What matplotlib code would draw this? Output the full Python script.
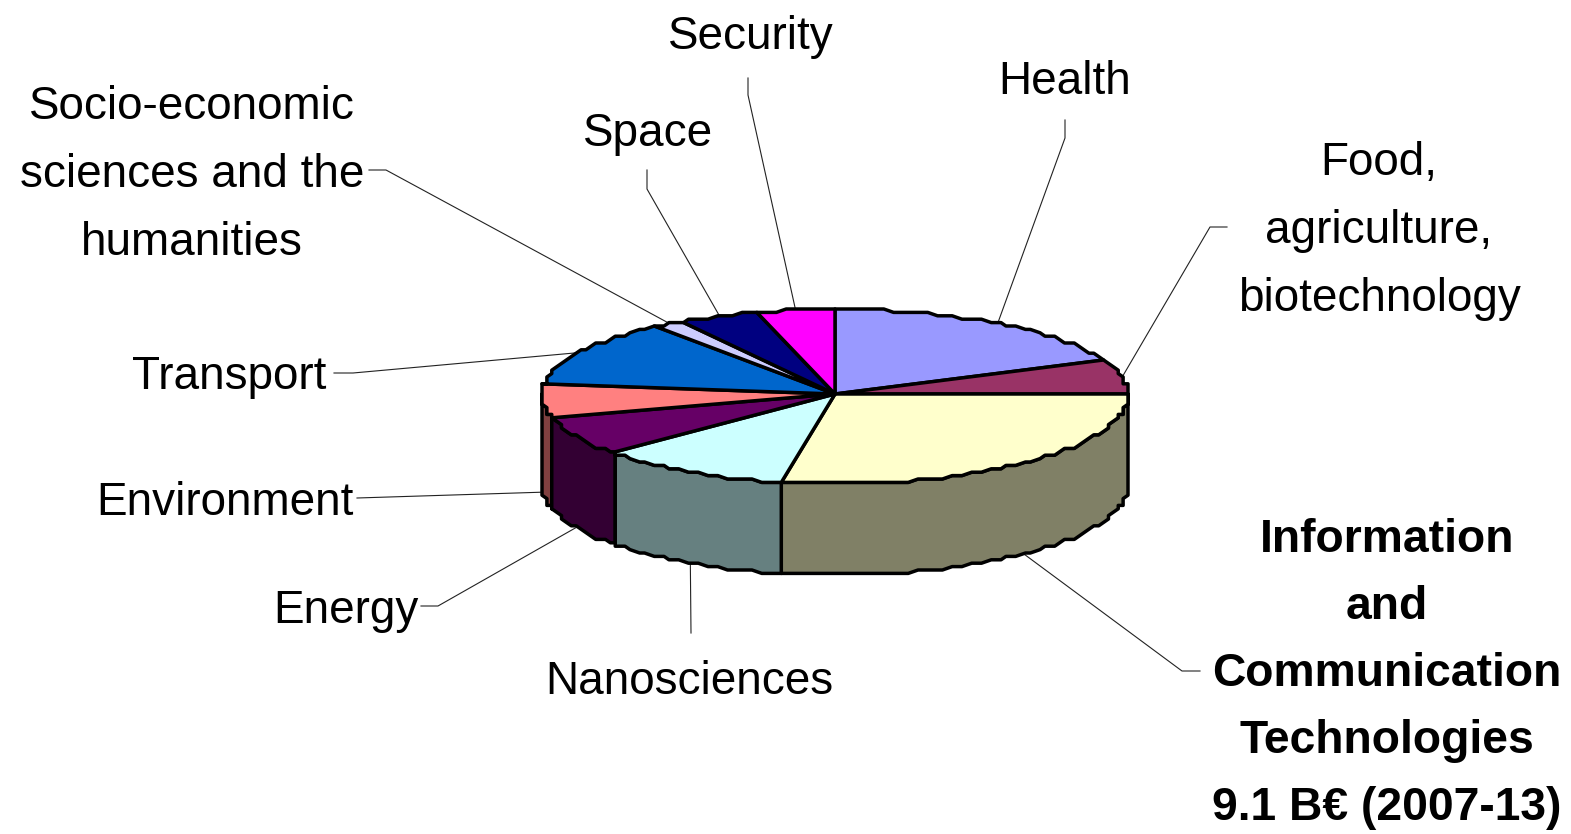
import numpy as np
import matplotlib
matplotlib.use("Agg")
import matplotlib.pyplot as plt

plt.rcParams['font.family'] = ['Liberation Sans', 'DejaVu Sans']

# Data (billion euro, read clockwise from 12 o'clock)
categories = ["Health", "Food,\nagriculture,\nbiotechnology",
              "Information\nand\nCommunication\nTechnologies\n9.1 B€ (2007-13)",
              "Nanosciences", "Energy", "Environment", "Transport",
              "Socio-economic\nsciences and the\nhumanities", "Space", "Security"]
values = [6.1, 2.0, 9.1, 3.5, 2.35, 1.9, 4.2, 0.6, 1.4, 1.4]
top_colors = ["#9999FF", "#993366", "#FFFFCC", "#CCFFFF", "#660066",
              "#FF8080", "#0066CC", "#CCCCFF", "#000080", "#FF00FF"]
wall_colors = ["#4D4D80", "#4D1A33", "#808066", "#668080", "#330033",
               "#804040", "#003366", "#666680", "#000040", "#800080"]

# Label styling: text centre and leader elbow(s) in figure pixels
label_xy = [(1065, 82), (1379, 231), (1387, 674), (689, 682), (346, 611),
            (225, 503), (229, 377), (192, 175), (648, 134), (751, 37)]
leader_start = [[(1065, 120), (1065, 138)], [(1227, 227), (1210, 227)],
                [(1200, 671), (1182, 671)], [(691, 633)],
                [(421, 606), (438, 606)], [(357, 498)],
                [(334, 373), (353, 373)], [(369, 170), (386, 170)],
                [(647, 170), (647, 189)], [(748, 78), (748, 95)]]

W, H = 1571, 834
CX, CY, RX, RY_UP, RY_DOWN, DEPTH = 835, 394, 293, 85, 90, 91
EDGE = 2.5
GRID_X, GRID_Y = RX / 60, 3.4

fig = plt.figure(figsize=(W / 100, H / 100), dpi=100)
ax = fig.add_axes([0, 0, 1, 1])
ax.set_xlim(0, W)
ax.set_ylim(H, 0)
ax.axis('off')


def rim(deg, dy=0.0, snap=False):
    r = np.radians(deg)
    s = np.sin(r)
    dx_ = RX * np.cos(r)
    dy_ = -np.where(s > 0, RY_UP, RY_DOWN) * s
    if snap:
        # the source's coarse outline grid gives the rim its stepped look
        dx_ = np.round(dx_ / GRID_X) * GRID_X
        dy_ = np.round(dy_ / GRID_Y) * GRID_Y
    return CX + dx_, CY + dy_ + dy


def samples(a, b):
    lo, hi = min(a, b), max(a, b)
    inner = np.arange(np.ceil(lo / 2) * 2, hi, 2.0)
    t = np.r_[lo, inner, hi]
    return t if a < b else t[::-1]


total = sum(values)
sweeps = [v / total * 360 for v in values]
ends = 90 - np.cumsum(sweeps)
starts = ends + np.array(sweeps)

# Side walls (only the front half, angles 180..360), back to front
order = sorted(range(len(values)), key=lambda i: abs(((starts[i] + ends[i]) / 2) % 360 - 270), reverse=True)
for i in order:
    a0, a1 = ends[i] % 360, starts[i] % 360
    if a1 <= a0:
        a1 += 360
    lo, hi = max(a0, 180), min(a1, 360)
    if hi <= lo:
        continue
    t = samples(lo, hi)
    xt, yt = rim(t, snap=True)
    xb, yb = rim(t, DEPTH, snap=True)
    ax.fill(np.r_[xt, xb[::-1]], np.r_[yt, yb[::-1]], facecolor=wall_colors[i],
            edgecolor='black', linewidth=EDGE, joinstyle='round', zorder=2)

# Top face
for i in range(len(values)):
    t = samples(starts[i], ends[i])
    x, y = rim(t, snap=True)
    ax.fill(np.r_[CX, x], np.r_[CY, y], facecolor=top_colors[i],
            edgecolor='black', linewidth=EDGE, joinstyle='round', zorder=3)

# Leaders, anchored at the middle of each slice's outer rim
for i in range(len(values)):
    mid = (starts[i] + ends[i]) / 2
    ax_, ay_ = rim(mid, DEPTH if np.sin(np.radians(mid)) < 0 else 0)
    pts = leader_start[i] + [(float(ax_), float(ay_))]
    ax.plot([p[0] for p in pts], [p[1] for p in pts], color='#222222', lw=0.8, zorder=1)

# Labels
for i, (lab, (x, y)) in enumerate(zip(categories, label_xy)):
    bold = i == 2
    ax.text(x, y, lab, ha='center', va='center', multialignment='center',
            fontsize=33.3 if bold else 33, fontweight='bold' if bold else 'normal',
            linespacing=1.68 if bold else 1.72, color='black', zorder=4)

fig.savefig("out.png", dpi=100, facecolor='white')
